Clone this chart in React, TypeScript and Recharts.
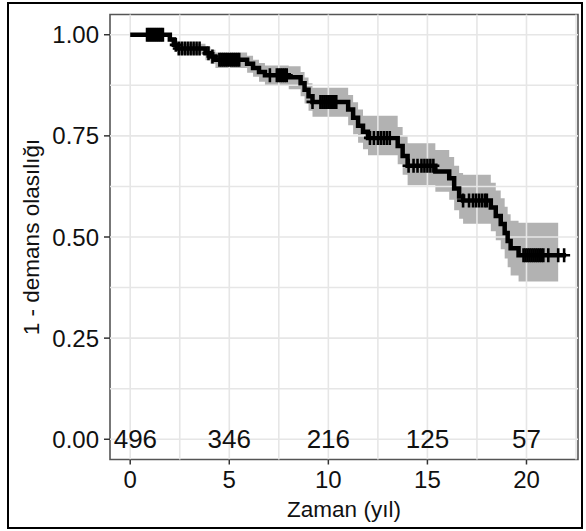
import React from 'react';
import {
  ComposedChart,
  XAxis,
  YAxis,
  Area,
  Line,
  Scatter,
  ReferenceLine,
  ReferenceArea,
} from 'recharts';

// Kaplan-Meier step estimate (time in years, 1 - dementia probability)
const kmTime = [0, 2.0, 2.2, 2.4, 3.8, 4.05, 4.3, 5.9, 6.2, 6.5, 6.8, 8.0, 8.6, 8.8, 9.0, 9.2, 11.0, 11.25, 11.5, 11.75, 12.0, 13.5, 13.75, 14.0, 15.4, 16.1, 16.35, 16.6, 16.8, 18.2, 18.45, 18.7, 18.9, 19.05, 19.2, 19.6, 21.6, 22.0];
const kmSurv = [1.0, 0.988, 0.975, 0.966, 0.954, 0.946, 0.938, 0.928, 0.918, 0.908, 0.9, 0.895, 0.88, 0.864, 0.848, 0.834, 0.815, 0.795, 0.775, 0.76, 0.745, 0.725, 0.7, 0.676, 0.662, 0.645, 0.62, 0.6, 0.59, 0.573, 0.552, 0.532, 0.51, 0.49, 0.472, 0.455, 0.455, 0.455];
const ciLower = [1.0, 0.982, 0.965, 0.952, 0.937, 0.928, 0.918, 0.906, 0.896, 0.884, 0.874, 0.865, 0.848, 0.83, 0.812, 0.797, 0.776, 0.754, 0.733, 0.717, 0.702, 0.68, 0.654, 0.628, 0.612, 0.592, 0.566, 0.545, 0.533, 0.514, 0.492, 0.47, 0.447, 0.425, 0.405, 0.39, 0.39, null];
const ciUpper = [1.0, 0.994, 0.985, 0.978, 0.97, 0.963, 0.956, 0.948, 0.938, 0.93, 0.924, 0.922, 0.908, 0.894, 0.88, 0.869, 0.851, 0.833, 0.815, 0.8, 0.8, 0.772, 0.75, 0.732, 0.715, 0.698, 0.676, 0.658, 0.654, 0.634, 0.615, 0.596, 0.575, 0.556, 0.54, 0.535, 0.535, null];

// Censoring marks
const censorTime = [0.85, 0.95, 1.05, 1.15, 1.25, 1.35, 1.45, 1.55, 1.65, 2.3, 2.45, 2.6, 2.75, 2.9, 3.05, 3.2, 3.35, 3.5, 3.95, 4.15, 4.5, 4.6, 4.7, 4.8, 4.9, 5.0, 5.1, 5.2, 5.3, 5.4, 5.5, 7.05, 7.4, 7.5, 7.6, 7.7, 7.8, 7.9, 9.2, 9.6, 9.7, 9.8, 9.9, 10.0, 10.1, 10.2, 10.3, 10.4, 12.1, 12.3, 12.5, 12.65, 12.8, 12.95, 13.1, 14.05, 14.3, 14.5, 14.7, 14.85, 15.0, 15.15, 15.3, 16.8, 17.1, 17.3, 17.45, 17.6, 17.75, 17.9, 18.0, 19.85, 19.95, 20.05, 20.15, 20.25, 20.35, 20.45, 20.55, 20.65, 20.75, 20.85, 21.1, 21.6, 21.9];
const censorSurv = [1.0, 1.0, 1.0, 1.0, 1.0, 1.0, 1.0, 1.0, 1.0, 0.975, 0.966, 0.966, 0.966, 0.966, 0.966, 0.966, 0.966, 0.966, 0.954, 0.946, 0.938, 0.938, 0.938, 0.938, 0.938, 0.938, 0.938, 0.938, 0.938, 0.938, 0.938, 0.9, 0.9, 0.9, 0.9, 0.9, 0.9, 0.9, 0.834, 0.834, 0.834, 0.834, 0.834, 0.834, 0.834, 0.834, 0.834, 0.834, 0.745, 0.745, 0.745, 0.745, 0.745, 0.745, 0.745, 0.676, 0.676, 0.676, 0.676, 0.676, 0.676, 0.676, 0.676, 0.59, 0.59, 0.59, 0.59, 0.59, 0.59, 0.59, 0.59, 0.455, 0.455, 0.455, 0.455, 0.455, 0.455, 0.455, 0.455, 0.455, 0.455, 0.455, 0.455, 0.455, 0.455];

// Number at risk
const riskTime = [0, 5, 10, 15, 20];
const riskCount = [496, 346, 216, 125, 57];

const xTicks = [0, 5, 10, 15, 20];
const yTicks = [0, 0.25, 0.5, 0.75, 1];
const gridX = [0, 2.5, 5, 7.5, 10, 12.5, 15, 17.5, 20, 22.5];
const gridY = [0, 0.125, 0.25, 0.375, 0.5, 0.625, 0.75, 0.875, 1];

const X_DOMAIN: [number, number] = [-1.02, 22.6];
const Y_DOMAIN: [number, number] = [-0.05, 1.05];

const FONT = '"Liberation Sans", Arial, Helvetica, sans-serif';

const kmData = kmTime.map((t, i) => ({ t, s: kmSurv[i] }));
const bandData = kmTime.map((t, i) => ({
  t,
  band: ciLower[i] == null ? null : [ciLower[i], ciUpper[i]],
}));
const censorData = censorTime.map((t, i) => ({ t, s: censorSurv[i] }));
const riskData = riskTime.map((t, i) => ({ t, s: 0, n: riskCount[i] }));

const PlusShape = (props: any) => {
  const { cx, cy } = props;
  if (cx == null || cy == null) return null;
  return (
    <g>
      <line x1={cx} x2={cx} y1={cy - 7} y2={cy + 7} stroke="#000" strokeWidth={2.6} />
      <line x1={cx - 6} x2={cx + 6} y1={cy} y2={cy} stroke="#000" strokeWidth={2.6} />
    </g>
  );
};

const RiskText = (props: any) => {
  const { cx, cy, payload } = props;
  if (cx == null || cy == null) return null;
  const first = payload.t === 0;
  return (
    <text
      x={first ? cx - 16.5 : cx}
      y={cy}
      textAnchor={first ? 'start' : 'middle'}
      dominantBaseline="central"
      fontSize={26}
      fontFamily={FONT}
      fill="#111"
    >
      {payload.n}
    </text>
  );
};

const XTitle = (props: any) => {
  const vb = props.viewBox;
  return (
    <text x={vb.x + vb.width / 2} y={vb.y + 57} textAnchor="middle" fontSize={22.5} fontFamily={FONT} fill="#111">
      Zaman (yıl)
    </text>
  );
};

const YTitle = (props: any) => {
  const vb = props.viewBox;
  const x = vb.x + 39;
  const y = vb.y + vb.height / 2;
  return (
    <text x={x} y={y} transform={`rotate(-90, ${x}, ${y})`} textAnchor="middle" fontSize={22.5} fontFamily={FONT} fill="#111">
      1 - demans olasılığı
    </text>
  );
};

export default function App() {
  return (
    <div style={{ position: 'absolute', left: 0, top: 0, width: 586, height: 531, background: '#fff' }}>
      <div
        style={{
          position: 'absolute',
          left: 7,
          top: 2,
          width: 576,
          height: 527,
          border: '2.5px solid #000',
          boxSizing: 'border-box',
        }}
      />
      <div style={{ position: 'absolute', left: 0, top: 0 }}>
        <ComposedChart width={586} height={531} margin={{ top: 14.5, right: 8, left: 0, bottom: 0 }}>
          <XAxis
            dataKey="t"
            type="number"
            domain={X_DOMAIN}
            allowDataOverflow
            ticks={xTicks}
            axisLine={false}
            tickSize={5}
            tickMargin={6}
            tickLine={{ stroke: '#333', strokeWidth: 1.5 }}
            tick={{ fontSize: 24, fill: '#111', fontFamily: FONT }}
            height={71.5}
            label={{ content: <XTitle /> } as any}
          />
          <YAxis
            type="number"
            domain={Y_DOMAIN}
            allowDataOverflow
            ticks={yTicks}
            tickFormatter={(v: number) => v.toFixed(2)}
            axisLine={false}
            tickSize={6}
            tickMargin={5}
            tickLine={{ stroke: '#333', strokeWidth: 1.5 }}
            tick={{ fontSize: 24, fill: '#111', fontFamily: FONT }}
            width={110}
            label={{ content: <YTitle /> } as any}
          />
          {gridY.map((v) => (
            <ReferenceLine key={'gy' + v} y={v} stroke="#e6e6e6" strokeWidth={1.6} />
          ))}
          {gridX.map((v) => (
            <ReferenceLine key={'gx' + v} x={v} stroke="#e6e6e6" strokeWidth={1.6} />
          ))}
          <Area
            data={bandData}
            dataKey="band"
            type="stepAfter"
            stroke="none"
            fill="#000"
            fillOpacity={0.3}
            isAnimationActive={false}
            connectNulls={false}
            dot={false}
            activeDot={false}
          />
          <Line
            data={kmData}
            dataKey="s"
            type="stepAfter"
            stroke="#000"
            strokeWidth={4.5}
            dot={false}
            activeDot={false}
            isAnimationActive={false}
          />
          <Scatter data={censorData} dataKey="s" shape={<PlusShape />} isAnimationActive={false} />
          <Scatter data={riskData} dataKey="s" shape={<RiskText />} isAnimationActive={false} />
          <ReferenceArea
            x1={X_DOMAIN[0]}
            x2={X_DOMAIN[1]}
            y1={Y_DOMAIN[0]}
            y2={Y_DOMAIN[1]}
            fill="none"
            stroke="#555"
            strokeWidth={1.6}
          />
        </ComposedChart>
      </div>
    </div>
  );
}
